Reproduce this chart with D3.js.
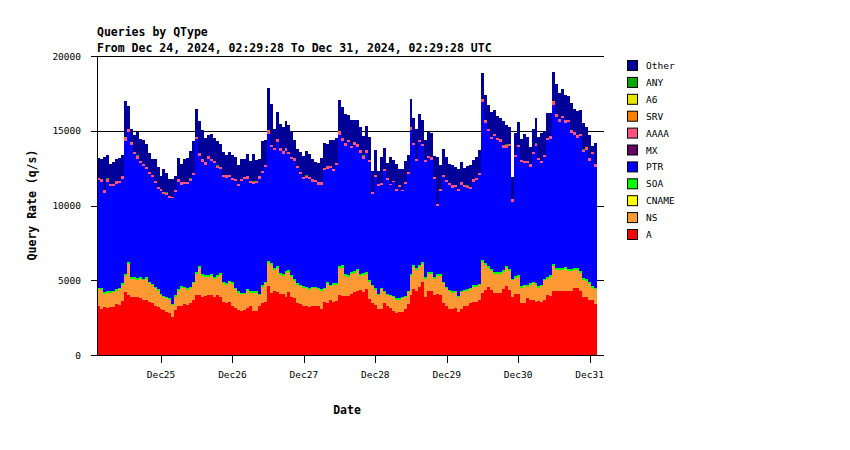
<!DOCTYPE html>
<html lang="en">
<head>
<meta charset="UTF-8">
<title>Queries by QType</title>
<script src="https://cdn.jsdelivr.net/npm/d3@7"></script>
<style>
html,body {margin:0;padding:0;background:#fff;}
svg text {font-family:"DejaVu Sans Mono",monospace;fill:#000;}
.bold {font-weight:bold;}
</style>
</head>
<body>
<div id="chart"></div>
<script>
// hourly rates (q/s), first bin starts Dec 24 02:29:28 UTC
const A = [3250,3100,3200,3150,3200,3200,3400,3350,3600,4200,4000,3900,3900,3850,3800,3700,3700,3550,3450,3300,3200,3050,3000,2900,2800,2550,3000,3300,
3250,3400,3350,3450,3700,4000,4000,3900,3950,4000,4000,3850,4000,3850,3550,3500,3550,3250,3150,3000,2970,3000,3150,3250,2970,2970,3250,3450,
3550,4600,4150,4300,4200,4050,4100,3900,4200,3900,3800,3450,3400,3300,3300,3200,3250,3300,3250,3050,3550,3500,3700,3550,3600,4000,3950,3950,
3950,4050,4200,4300,4350,4200,4400,3750,3450,3350,3050,3050,3450,3250,3150,2950,2800,2850,2900,3050,3400,4000,4400,4300,4550,4850,3900,4250,
4250,4000,4100,4000,3450,3250,3050,3050,3150,2850,3100,3250,3250,3500,3550,3550,3650,4150,4350,4550,4350,4150,4150,4150,4400,4600,4350,3900,
4050,4100,3450,3500,3800,3700,3700,3550,3600,3550,3700,4000,3950,4250,4250,4250,4250,4250,4250,4300,4500,4450,4250,3850,3900,3700,3650,3400];

const NS = [1150,1250,900,1000,950,1000,900,1050,1100,1100,2100,1200,1200,1200,1300,1300,1400,1250,1200,1150,1100,950,850,900,900,800,900,1000,
1250,1050,1000,1000,1100,1400,1800,1400,1250,1200,1300,1250,1250,1500,1250,1200,1300,1500,1250,1150,1080,1050,1150,900,1180,1180,750,1100,
1250,1550,1850,1400,1650,1300,1200,1600,1350,1350,1150,1250,1200,1200,1150,1150,1200,1150,1150,1250,850,1250,900,1150,1100,1800,1900,1350,
1250,1350,1300,1300,950,1150,1000,1150,1150,1000,950,1350,750,750,800,900,900,850,900,800,800,1300,1500,1400,1350,1250,1200,1150,
1200,1100,1200,1300,1350,1200,1200,1100,1050,1000,1100,1000,1050,900,1000,1000,1000,2050,1650,1300,1250,1250,1250,1250,1150,1200,1300,1100,
1100,1150,1050,1100,750,1000,1100,1150,900,1050,1300,1100,1300,1700,1450,1450,1450,1450,1400,1350,1200,1250,1250,1150,1050,1050,850,1000];

const SOA = [110,100,110,100,100,100,110,100,100,120,140,130,120,120,120,110,110,110,100,100,100,90,90,90,90,80,90,100,
100,100,100,100,110,130,140,130,120,120,120,120,120,130,110,110,110,110,100,100,90,90,100,100,100,100,100,110,
110,140,140,130,130,120,120,120,120,120,110,110,110,100,100,100,100,100,100,100,110,110,110,110,110,140,140,130,
130,130,130,130,120,120,120,110,110,100,100,100,100,90,90,90,80,80,90,90,100,130,140,130,130,130,110,120,
120,110,110,110,110,100,100,100,100,90,100,100,100,100,100,100,110,140,140,130,130,120,120,120,120,120,120,110,
110,110,100,100,100,100,100,100,100,100,110,120,120,140,130,130,130,130,130,130,130,130,130,120,110,110,100,100];

const PTR = [7200,7150,6650,7350,7050,7000,7050,7000,7000,8900,8700,8800,8200,7950,7600,7500,7200,7200,7150,6950,6700,6900,6800,6800,6700,7050,6900,7200,
6800,6900,7000,7100,7100,8900,7400,7500,7400,7800,7550,7600,7150,6950,7000,7050,6950,6850,7150,7050,7500,7600,7400,7250,7200,7250,7700,7500,
7650,8500,7750,7850,8300,8200,8050,8050,7750,7750,7950,7700,7400,7150,7300,7300,7050,7000,6900,7000,7850,7600,7800,7500,7900,8800,8350,8550,
8900,8300,8450,8200,8100,7650,8000,7900,6050,7450,7200,6850,8000,7600,7300,7600,7200,7450,7050,7500,7800,9600,8000,7150,8200,7750,7700,7650,
7500,6550,4550,5550,7000,7000,7000,6950,6950,7050,7100,6900,6750,6600,6950,7050,7250,10550,9350,9000,8700,9100,8850,8750,8200,7950,8200,5150,
8000,8550,8300,8150,8200,7800,8550,9150,8450,8150,8150,9150,9100,10650,10100,9750,10000,9650,9800,9100,8900,8700,9000,8450,8650,8150,8850,8100];

const AAAA = [150,140,160,150,140,150,150,140,150,170,180,170,160,160,150,150,150,140,140,140,130,130,130,130,120,120,130,140,
140,140,140,150,150,170,170,160,160,160,160,150,150,150,150,150,140,140,140,140,140,140,140,140,140,140,140,150,
150,180,170,170,170,160,160,160,160,150,150,150,140,140,140,140,140,140,140,140,150,150,150,150,160,180,180,170,
170,170,170,170,160,160,160,150,150,140,140,140,140,130,130,130,130,130,130,130,140,170,170,160,160,160,150,150,
150,150,150,150,150,140,140,140,140,130,140,140,140,140,140,140,150,180,180,170,170,160,160,160,160,160,160,150,
150,150,150,150,150,150,150,160,150,150,150,160,160,180,180,180,180,170,170,170,170,170,160,160,160,150,150,150];

const Other = [1350,1350,2250,1550,1350,1450,1500,1550,1450,2400,1550,850,1150,1550,1450,1650,1550,1250,1050,1450,1350,850,1550,1300,1150,1150,950,1450,
1250,1500,1600,1800,2150,1850,2150,1950,1650,1450,1650,1550,1600,1550,1550,1350,1550,1550,1450,1250,1300,1200,1500,1350,1800,1400,1150,2000,
1700,2800,2700,1300,1800,1600,1650,1800,1800,1700,1250,1150,1300,1450,1600,1550,1350,1200,1300,1650,1700,1500,1700,1950,1650,2050,2050,2000,
1650,1750,1500,1650,1600,1300,1650,1500,1400,1650,900,1750,1400,1050,1800,1400,1650,1100,1400,1400,1150,1850,1650,2000,1750,1600,1350,1600,
1600,1400,3150,1600,1700,1550,1300,1350,1200,1300,1350,1150,1300,1450,1300,1400,1550,1750,1650,1600,1650,1600,1450,1400,1600,1300,1150,1500,
1450,1550,1400,1800,1600,1150,1500,1700,1350,1850,1600,1650,1550,1900,2000,1750,1750,1700,1550,1800,1550,1600,1600,1700,1300,1550,400,1400];

// rare types, [hour, q/s]
const CNAME = [[129,30],[157,50]];
const MX = [];
const SRV = [[9,120],[11,60],[57,100],[81,90],[105,60],[130,60],[153,80],[164,60]];
const A6 = [];
const ANY = [[3,80],[13,70],[23,80],[31,70],[40,70],[52,80],[70,70],[89,70],[124,80],[137,80],[147,70],[163,80]];

const qtypes = ["A","NS","CNAME","SOA","PTR","MX","AAAA","SRV","A6","ANY","Other"];
const colors = {A:"#ff0000",NS:"#ff9933",CNAME:"#ffff00",SOA:"#00ff00",PTR:"#0000ff",MX:"#660066",
	AAAA:"#ff5080",SRV:"#ff8000",A6:"#e6e600",ANY:"#00aa00",Other:"#000099"};
const yTicks = [0,5000,10000,15000,20000];

const start = new Date(Date.UTC(2024,11,24,2,29,28));
const end = new Date(Date.UTC(2024,11,31,2,29,28));

function sparse(pairs) {
	let m = new Map(pairs);
	return i => m.get(i) || 0;
}
let rare = {CNAME:sparse(CNAME),MX:sparse(MX),SRV:sparse(SRV),A6:sparse(A6),ANY:sparse(ANY)};
let full = {A:A,NS:NS,SOA:SOA,PTR:PTR,AAAA:AAAA,Other:Other};

let rows = A.map((v,i) => {
	let r = {t: d3.utcHour.offset(start, i)};
	qtypes.forEach(k => { r[k] = full[k] ? full[k][i] : rare[k](i); });
	return r;
});
rows.push(Object.assign({}, rows[rows.length-1], {t:end}));

let svg = d3.select('#chart').append('svg')
	.attr('width', 850).attr('height', 450);

let x = d3.scaleUtc().domain([start, end]).range([97, 597]);
let y = d3.scaleLinear().domain([0, 20000]).range([355, 56]);

// grid
svg.append('g').selectAll('line').data(yTicks).join('line')
	.attr('x1', 91).attr('x2', 604)
	.attr('y1', d => Math.round(y(d))+0.5).attr('y2', d => Math.round(y(d))+0.5)
	.attr('stroke', '#000').attr('stroke-width', 1);

let series = d3.stack().keys(qtypes)(rows);
let area = d3.area()
	.curve(d3.curveStepAfter)
	.x(d => x(d.data.t))
	.y0(d => y(d[0]))
	.y1(d => y(d[1]));

svg.append('g').selectAll('path').data(series).join('path')
	.attr('d', area)
	.attr('fill', d => colors[d.key])
	.attr('shape-rendering', 'crispEdges');

// axes
svg.append('line').attr('x1', 97.5).attr('x2', 97.5).attr('y1', 56).attr('y2', 355)
	.attr('stroke', '#000');
svg.append('line').attr('x1', 91).attr('x2', 604).attr('y1', 355.5).attr('y2', 355.5)
	.attr('stroke', '#000');

svg.append('g').selectAll('text').data(yTicks).join('text')
	.attr('x', 81).attr('y', d => y(d) + 3.5)
	.attr('text-anchor', 'end')
	.style('font-size', '9.5px')
	.text(d => d);

let days = d3.utcDay.range(d3.utcDay.ceil(start), end);
let xt = svg.append('g');
xt.selectAll('line').data(days).join('line')
	.attr('x1', d => Math.round(x(d))+0.5).attr('x2', d => Math.round(x(d))+0.5)
	.attr('y1', 355).attr('y2', 363)
	.attr('stroke', '#000');
xt.selectAll('text').data(days).join('text')
	.attr('x', d => x(d)).attr('y', 378)
	.attr('text-anchor', 'middle')
	.style('font-size', '9.5px')
	.text(d => d3.utcFormat('%b%d')(d));

// titles
svg.append('text').attr('class', 'bold').attr('x', 97).attr('y', 36)
	.style('font-size', '11.5px').text('Queries by QType');
svg.append('text').attr('class', 'bold').attr('x', 97).attr('y', 52)
	.style('font-size', '11.5px').text('From Dec 24, 2024, 02:29:28 To Dec 31, 2024, 02:29:28 UTC');
svg.append('text').attr('class', 'bold').attr('x', 347).attr('y', 414)
	.attr('text-anchor', 'middle')
	.style('font-size', '11.5px').text('Date');
svg.append('text').attr('class', 'bold')
	.attr('transform', 'translate(36,205) rotate(-90)')
	.attr('text-anchor', 'middle')
	.style('font-size', '11.5px').text('Query Rate (q/s)');

// legend
let legend = svg.append('g').selectAll('g').data(qtypes.slice().reverse()).join('g')
	.attr('transform', (d,i) => 'translate(627,' + (65 + i*16.9) + ')');
legend.append('rect')
	.attr('x', 0.5).attr('y', -4.5).attr('width', 10).attr('height', 10)
	.attr('fill', d => colors[d]).attr('stroke', '#000');
legend.append('text')
	.attr('x', 19).attr('y', 4)
	.style('font-size', '9.5px')
	.text(d => d);
</script>
</body>
</html>
